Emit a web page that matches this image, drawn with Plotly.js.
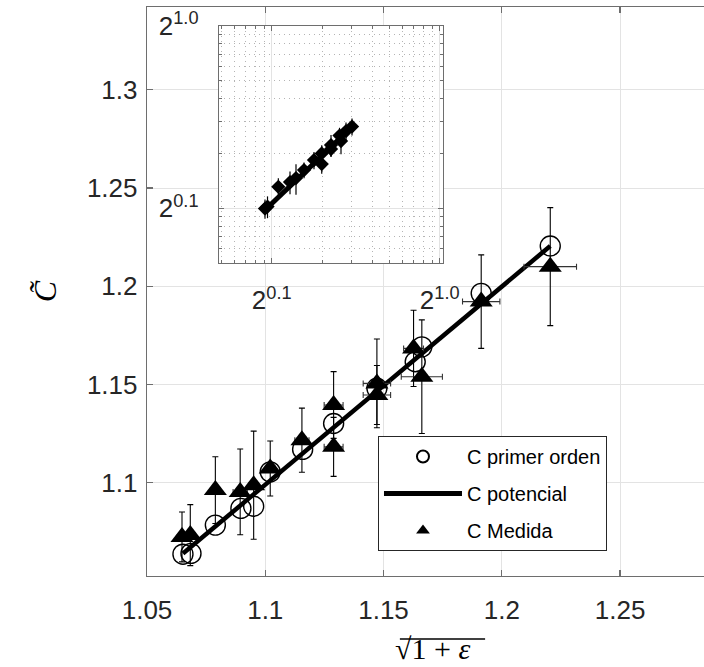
<!DOCTYPE html>
<html>
<head>
<meta charset="utf-8">
<script src="https://cdn.plot.ly/plotly-3.0.1.min.js"></script>
<style>html,body{margin:0;padding:0;background:#fff;}#chart{width:704px;height:667px;}</style>
</head>
<body>
<div id="chart"></div>
<script>
// ---- main plot data ----
const xPrimer = [1.0652, 1.0686, 1.0789, 1.0897, 1.0951, 1.1021, 1.1158, 1.1289, 1.1472, 1.1634, 1.1662, 1.1913, 1.2205];
const yPrimer = [1.0637, 1.0641, 1.0785, 1.0870, 1.0881, 1.1056, 1.1170, 1.1302, 1.1481, 1.1616, 1.1692, 1.1964, 1.2205];

const xPot = [1.0652, 1.1472, 1.2205];
const yPot = [1.0640, 1.1470, 1.2205];

const xMedida = [1.0648, 1.0683, 1.0789, 1.0894, 1.0951, 1.1021, 1.1155, 1.1289, 1.1289, 1.1472, 1.1472, 1.1627, 1.1662, 1.1913, 1.2205];
const yMedida = [1.0725, 1.0734, 1.0963, 1.0954, 1.0988, 1.1073, 1.1217, 1.1183, 1.1396, 1.1506, 1.1447, 1.1684, 1.1540, 1.1922, 1.2100];
const errYMedida = [0.0127, 0.0155, 0.0170, 0.0218, 0.0275, 0.0140, 0.0163, 0.0150, 0.0170, 0.0226, 0.0150, 0.0194, 0.0289, 0.0238, 0.0300];
const errXMedida = [0.0020, 0.0020, 0.0020, 0.0030, 0.0020, 0.0020, 0.0030, 0.0040, 0.0040, 0.0058, 0.0058, 0.0042, 0.0087, 0.0079, 0.0111];

// ---- inset (log-log) data ----
const xInset = [0.912, 0.944, 1.095, 1.285, 1.395, 1.557, 1.785, 1.985, 1.985, 2.254, 2.254, 2.533, 2.585, 2.769, 3.006];
const yInset = [0.997, 1.023, 1.313, 1.393, 1.466, 1.622, 1.839, 1.749, 2.001, 2.223, 2.113, 2.506, 2.338, 2.652, 2.808];
const errInset = [0.12, 0.14, 0.15, 0.20, 0.28, 0.16, 0.20, 0.20, 0.22, 0.30, 0.20, 0.26, 0.36, 0.30, 0.30];
const xInsetLine = [0.912, 3.006];
const yInsetLine = [0.979, 2.79];

// ---- ticks ----
const xTicks = [1.05, 1.1, 1.15, 1.2, 1.25];
const xTickText = ['1.05', '1.1', '1.15', '1.2', '1.25'];
const yTicks = [1.1, 1.15, 1.2, 1.25, 1.3];
const yTickText = ['1.1', '1.15', '1.2', '1.25', '1.3'];
const insetTicks = [1, 10];
const insetXTickText = ['2<sup>0.1</sup>', '2<sup>1.0</sup>'];
const insetYTickText = ['2<sup>0.1</sup>', '2<sup>1.0</sup>'];

const legendNames = ['C primer orden', 'C potencial', 'C Medida'];
const xTitle = '\u221A1 + <i>\u03B5</i>';
const yTitle = '<i>C\u0303</i>';

const FONT = 'Liberation Sans, Arial, Helvetica, sans-serif';
const SERIF = 'Liberation Serif, DejaVu Serif, serif';
const AX = '#6e6e6e';
const GRID = '#e3e3e3';

const traces = [
  {x: xPrimer, y: yPrimer, type: 'scatter', mode: 'markers', name: legendNames[0], legendgroup: 'a',
   marker: {symbol: 'circle-open', size: 20, color: '#000', line: {width: 1.4, color: '#000'}}},
  {x: xPot, y: yPot, type: 'scatter', mode: 'lines', name: legendNames[1], legendgroup: 'b',
   line: {color: '#000', width: 4.5}},
  {x: xMedida, y: yMedida, type: 'scatter', mode: 'markers', name: legendNames[2], legendgroup: 'c',
   marker: {symbol: 'triangle-up', size: 20, color: '#000'},
   error_y: {type: 'data', array: errYMedida, visible: true, color: '#000', thickness: 1.1, width: 3},
   error_x: {type: 'data', array: errXMedida, visible: true, color: '#333', thickness: 1.1, width: 3}},
  {x: xInsetLine, y: yInsetLine, xaxis: 'x2', yaxis: 'y2', type: 'scatter', mode: 'lines', showlegend: false,
   line: {color: '#000', width: 5}},
  {x: xInset, y: yInset, xaxis: 'x2', yaxis: 'y2', type: 'scatter', mode: 'markers', showlegend: false,
   marker: {symbol: 'diamond', size: 11, color: '#000'},
   error_y: {type: 'data', array: errInset, visible: true, color: '#000', thickness: 1.2, width: 0}}
];

const tickFont = {family: FONT, size: 26, color: '#262626'};
const insetTickFont = {family: FONT, size: 26, color: '#262626'};
const minorGrid = {dtick: 'D1', showgrid: true, gridcolor: '#b4b4b4', griddash: '1px,4px', gridwidth: 1,
                   ticks: 'inside', ticklen: 3, tickcolor: AX};

const layout = {
  width: 704, height: 667,
  margin: {l: 147, r: 0, t: 7, b: 91, pad: 0},
  paper_bgcolor: '#fff', plot_bgcolor: '#fff',
  showlegend: true,
  legend: {x: 0.4147, y: 0.246, xanchor: 'left', yanchor: 'top', bgcolor: '#fff',
           bordercolor: '#262626', borderwidth: 1, font: {family: FONT, size: 20, color: '#000'},
           itemwidth: 78, tracegroupgap: 8, itemsizing: 'constant'},
  xaxis: {domain: [0, 1], range: [1.05, 1.2855], tickvals: xTicks, ticktext: xTickText,
          showgrid: true, gridcolor: GRID, gridwidth: 1, zeroline: false,
          showline: true, linecolor: AX, linewidth: 1.3, mirror: 'ticks',
          ticks: 'inside', ticklen: 6, tickcolor: AX, tickwidth: 1.3,
          tickfont: tickFont, ticklabelstandoff: 10},
  yaxis: {domain: [0, 1], range: [1.0526, 1.3421], tickvals: yTicks, ticktext: yTickText,
          showgrid: true, gridcolor: GRID, gridwidth: 1, zeroline: false,
          showline: true, linecolor: AX, linewidth: 1.3, mirror: false,
          ticks: 'inside', ticklen: 6, tickcolor: AX, tickwidth: 1.3,
          tickfont: tickFont, ticklabelstandoff: 3,
          title: {text: yTitle, font: {family: SERIF, size: 32, color: '#000'}, standoff: 20}},
  xaxis2: {type: 'log', domain: [0.1293, 0.5314], anchor: 'y2', range: [-0.3137, 1.0196],
           tickvals: insetTicks, ticktext: insetXTickText, tickfont: insetTickFont,
           showgrid: true, gridcolor: GRID, zeroline: false,
           showline: true, linecolor: AX, linewidth: 1.3, mirror: 'allticks',
           ticks: 'inside', ticklen: 5, tickcolor: AX, ticklabelstandoff: 14,
           minor: minorGrid},
  yaxis2: {type: 'log', domain: [0.5501, 0.9666], anchor: 'x2', range: [-0.2997, 1.0],
           tickvals: insetTicks, ticktext: insetYTickText, tickfont: insetTickFont,
           showgrid: true, gridcolor: GRID, zeroline: false,
           showline: true, linecolor: AX, linewidth: 1.3, mirror: 'allticks',
           ticks: 'inside', ticklen: 5, tickcolor: AX, ticklabelstandoff: 14,
           minor: minorGrid},
  annotations: [
    {text: xTitle, xref: 'paper', yref: 'paper', x: 0.512, y: -0.127, xanchor: 'center', yanchor: 'middle',
     showarrow: false, font: {family: SERIF, size: 30, color: '#000'}}
  ],
  shapes: [
    {type: 'line', xref: 'paper', yref: 'paper', x0: 0.454, x1: 0.607, y0: -0.1107, y1: -0.1107,
     line: {color: '#000', width: 1.6}}
  ]
};

Plotly.newPlot('chart', traces, layout, {displayModeBar: false, staticPlot: true});
</script>
</body>
</html>
